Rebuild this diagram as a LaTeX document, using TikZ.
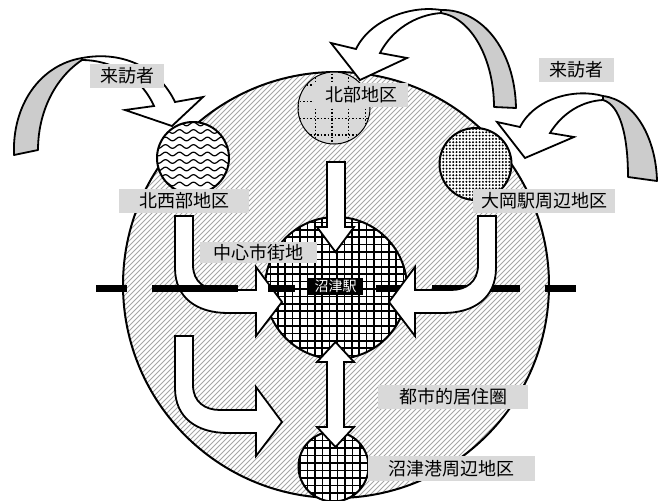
\documentclass[tikz,border=0pt]{standalone}
\usepackage{fontspec}
\setmainfont{Noto Sans CJK JP}

\begin{document}
\begin{tikzpicture}[x=1pt,y=-1pt,
  area/.style={fill=black!15,inner sep=0pt,minimum height=24pt,font=\fontsize{18}{20}\selectfont},
  station/.style={fill=black,text=white,inner sep=0pt,minimum width=55pt,minimum height=17pt,font=\fontsize{14}{16}\selectfont},
  outline/.style={draw,line width=2pt},
  flow/.style={draw,fill=white,line width=1.8pt,line join=miter},
  backband/.style={draw,fill=black!20,line width=1.8pt,line join=round},
  hatch/.style={black!35,line width=0.8pt},
  mesh/.style={line width=1.5pt},
  griddot/.style={line width=1.3pt,dash pattern=on 1.5pt off 2pt},
  bar/.style={line width=7pt},
  bend/.pic={
    \draw[flow] (0,0) -- (0,52) .. controls (0,82) and (22,97) .. (53,97)
      -- (81,97) -- (81,120) -- (107,86) -- (81,51) -- (81,74) -- (45,74)
      .. controls (30,74) and (18,66) .. (18,49) -- (18,0) -- cycle;
  },
]
\useasboundingbox (0,0) rectangle (662,501);

% centres of the areas
\coordinate (city) at (336,285);
\coordinate (northC) at (334,108);
\coordinate (nwC) at (193,158);
\coordinate (ookaC) at (475.5,164);
\coordinate (coreC) at (336,288);
\coordinate (portC) at (333.5,466.5);

% urban living area
\fill[white] (city) circle[radius=213];
\begin{scope}
  \clip (city) circle[radius=213];
  \foreach \i in {-420,-415,...,560}
    \draw[hatch] ({\i},500) -- ({\i+500},0);
\end{scope}
\draw[outline] (city) circle[radius=213];

% north area
\fill[black!15] (northC) circle[radius=36];
\begin{scope}
  \clip (northC) circle[radius=36];
  \foreach \k in {0,...,4} {
    \draw[griddot] ({298.5+\k*16.7},70) -- ({298.5+\k*16.7},146);
    \draw[griddot] (296,{68.3+\k*16.7}) -- (372,{68.3+\k*16.7});
  }
\end{scope}
\draw[line width=1pt] (northC) circle[radius=36];

% north-west area
\fill[white] (nwC) circle[radius=36];
\begin{scope}
  \clip (nwC) circle[radius=36];
  \foreach \yy in {124,131.5,...,196}
    \draw[line width=1.2pt] plot[domain=155:231,samples=70,smooth]
      (\x,{\yy+1.8*sin((\x-155)/14*360)});
\end{scope}
\draw[outline] (nwC) circle[radius=36];

% Ooka station area
\fill[white] (ookaC) circle[radius=36];
\begin{scope}
  \clip (ookaC) circle[radius=36];
  \foreach \i in {0,...,22}
    \foreach \j in {0,...,22}
      \fill ({440+\i*3.3},{129+\j*3.3}) circle[radius=1.1];
\end{scope}
\draw[outline] (ookaC) circle[radius=36];

% city centre
\fill[white] (coreC) circle[radius=71];
\begin{scope}
  \clip (coreC) circle[radius=71];
  \foreach \k in {0,...,20} {
    \draw[mesh] ({263+\k*7.4},215) -- ({263+\k*7.4},362);
    \draw[mesh] (262,{215+\k*7.4}) -- (410,{215+\k*7.4});
  }
\end{scope}
\draw[outline] (coreC) circle[radius=71];

% port area
\fill[white] (portC) circle[radius=35];
\begin{scope}
  \clip (portC) circle[radius=35];
  \foreach \k in {0,...,10} {
    \draw[mesh] ({300+\k*7.5},430) -- ({300+\k*7.5},505);
    \draw[mesh] (296,{433+\k*7.5}) -- (372,{433+\k*7.5});
  }
\end{scope}
\draw[outline] (portC) circle[radius=35];

% visitors (left)
\draw[backband] (82,58) .. controls (40,65) and (12,105) .. (14,155)
  -- (38,150) .. controls (38,112) and (55,78) .. (82,60) -- cycle;
\draw[flow] (82,58) .. controls (125,50) and (160,70) .. (175,102)
  -- (203,97) -- (172,126) -- (125,110) -- (154,106)
  .. controls (140,75) and (110,60) .. (82,60) -- cycle;

% visitors (top)
\draw[backband] (441,10) .. controls (482,9) and (515,50) .. (516,108)
  -- (494,107) .. controls (494,60) and (472,18) .. (441,13) -- cycle;
\draw[flow] (441,10) .. controls (410,5) and (370,20) .. (356,49)
  -- (331,43) -- (360,80) -- (407,58) -- (380,53)
  .. controls (392,30) and (415,15) .. (441,13) -- cycle;

% visitors (right)
\draw[backband] (603,96) .. controls (635,100) and (656,138) .. (657,181)
  -- (628,177) .. controls (628,135) and (620,105) .. (603,100) -- cycle;
\draw[flow] (603,96) .. controls (575,88) and (535,98) .. (520,127)
  -- (497,122) -- (525,158) -- (574,137) -- (550,133)
  .. controls (563,112) and (583,101) .. (603,100) -- cycle;

% boundary line (right half)
\foreach \a/\b in {376/404,432/520,545/576}
  \draw[bar] (\a,288) -- (\b,288);

% flows into the centre
\draw[flow] (327,162) -- (327,227) -- (317,227) -- (335.5,252)
  -- (354,227) -- (345,227) -- (345,162) -- cycle;
\pic at (175,216) {bend};
\pic at (175,336) {bend};
\draw[flow] (496,216) -- (496,268) .. controls (496,298) and (474,313) .. (443,313)
  -- (415,313) -- (415,336) -- (389,302) -- (415,267) -- (415,290) -- (451,290)
  .. controls (466,290) and (478,282) .. (478,265) -- (478,216) -- cycle;
\draw[flow] (335.5,342) -- (354,362) -- (344,362) -- (344,427) -- (354,427)
  -- (335.5,447) -- (317,427) -- (327,427) -- (327,362) -- (317,362) -- cycle;

% boundary line (left half)
\foreach \a/\b in {96/127,152/238,268/295}
  \draw[bar] (\a,288) -- (\b,288);

% labels
\node[area,minimum width=74pt] (visL) at (127,76) {来訪者};
\node[area,minimum width=75pt] (visR) at (576.5,69.5) {来訪者};
\node[area,minimum width=94pt] (north) at (361,94.5) {北部地区};
\node[area,minimum width=130pt] (nw) at (184,201) {北西部地区};
\node[area,minimum width=142pt] (ooka) at (544,201) {大岡駅周辺地区};
\node[area,minimum width=117pt,minimum height=21pt] (center) at (258.5,252.5) {中心市街地};
\node[station] (numazu) at (335.5,286.5) {沼津駅};
\node[area,minimum width=150pt] (urban) at (453,397) {都市的居住圏};
\node[area,minimum width=167pt,minimum height=25pt] (port) at (451.5,468.5) {沼津港周辺地区};
\end{tikzpicture}
\end{document}
